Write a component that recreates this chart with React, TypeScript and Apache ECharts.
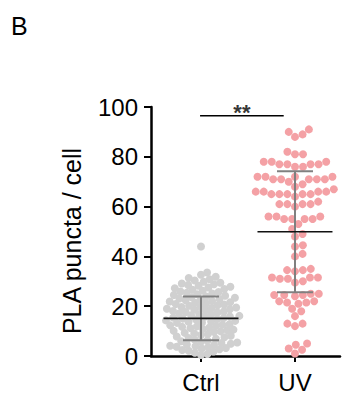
import React, { useEffect, useRef } from 'react';
import * as echarts from 'echarts';

const categories = ['Ctrl', 'UV'];

const ctrlValues = [
  0.4, 0.8, 1.3, 1.8,
  2.1, 2.4, 2.7, 3.0, 3.2, 3.5, 3.7, 3.9,
  4.1, 4.4, 4.6, 4.9, 5.2, 5.4, 5.7, 5.9,
  6.2, 6.5, 6.9, 7.2, 7.5, 7.8,
  8.1, 8.4, 8.8, 9.1, 9.3, 9.6, 9.9,
  10.1, 10.4, 10.6, 10.9, 11.2, 11.4, 11.7, 11.9,
  12.1, 12.3, 12.6, 12.8, 13.3, 13.5, 13.7, 13.9,
  14.1, 14.3, 14.6, 14.8, 15.0, 15.2, 15.4, 15.8, 15.9,
  16.1, 16.3, 16.7, 16.9, 17.1, 17.5, 17.7, 17.9,
  18.1, 18.4, 18.6, 18.8, 19.0, 19.3, 19.5, 19.7, 19.9,
  20.2, 20.4, 20.7, 20.9, 21.1, 21.4, 21.6, 21.9,
  22.1, 22.4, 22.6, 22.9, 23.1, 23.4, 23.6, 23.9,
  24.2, 24.5, 24.8, 25.1, 25.4, 25.7, 25.9,
  26.2, 26.6, 26.9, 27.2, 27.5, 27.8,
  28.2, 28.5, 28.8, 29.1, 29.4, 29.8,
  30.3, 30.8, 31.3, 31.8,
  32.6, 33.5,
  44,
];

const uvValues = [
  91, 90, 89, 88,
  82, 81, 81,
  78, 78, 77, 77, 77, 77, 78, 76, 76,
  72, 72, 72, 72, 71, 71, 71, 71, 71, 72, 70, 69,
  68, 67,
  66, 66, 66, 66, 65, 65, 65, 65, 65, 64,
  62, 61, 61, 61, 61, 60,
  56, 56, 56, 55, 55, 55, 55, 53,
  51, 49, 48,
  44.5, 44, 41, 40,
  35, 34.5, 34.5, 34,
  31.5, 31.5, 31.5, 31, 31,
  30, 29.5,
  25, 25, 24.5, 24.5, 24.5, 24,
  22, 22, 21.5, 21.5, 21,
  19, 18,
  16,
  13, 13, 12,
  5, 4.5, 3, 2.5, 1,
];

const means = [15.1, 49.9];
const sds = [8.8, 24.3];
const yTicks = [0, 20, 40, 60, 80, 100];
const yTitle = 'PLA puncta / cell';
const panelLetter = 'B';
const significanceText = '**';
const significanceY = 96.5;
const significanceX = [0.99, 1.88];

const W = 342;
const H = 396;
const GRID = { left: 151, right: 2, top: 107, bottom: 40 };
const X_MIN = 0.468;
const X_MAX = 2.479;
const DOT = 8;
const FONT = '"Liberation Sans", Arial, Helvetica, sans-serif';

function swarm(values: number[], center: number, pxPerX: number, pxPerY: number, d: number) {
  const placed: { x: number; y: number }[] = [];
  const order = values.map((_, i) => i).sort((a, b) => values[a] - values[b]);
  const result: number[][] = new Array(values.length);
  for (const i of order) {
    const y = values[i] * pxPerY;
    const cands = [0];
    for (const p of placed) {
      const dy = Math.abs(p.y - y);
      if (dy < d) {
        const dx = Math.sqrt(d * d - dy * dy);
        cands.push(p.x + dx, p.x - dx);
      }
    }
    cands.sort((a, b) => Math.abs(a) - Math.abs(b));
    let chosen = 0;
    for (const c of cands) {
      let ok = true;
      for (const p of placed) {
        const dx = p.x - c;
        const dy = p.y - y;
        if (dx * dx + dy * dy < d * d - 1e-6) {
          ok = false;
          break;
        }
      }
      if (ok) {
        chosen = c;
        break;
      }
    }
    placed.push({ x: chosen, y });
    result[i] = [center + chosen / pxPerX, values[i]];
  }
  return result;
}

export default function App() {
  const ref = useRef<HTMLDivElement>(null);
  useEffect(() => {
    if (!ref.current) return;
    const chart = echarts.init(ref.current, undefined, { renderer: 'svg' });
    const plotW = W - GRID.left - GRID.right;
    const plotH = H - GRID.top - GRID.bottom;
    const pxPerX = plotW / (X_MAX - X_MIN);
    const pxPerY = plotH / (yTicks[yTicks.length - 1] - yTicks[0]);
    const ctrlPts = swarm(ctrlValues, 1, pxPerX, pxPerY, 6.5);
    const uvPts = swarm(uvValues, 2, pxPerX, pxPerY, DOT);

    chart.setOption({
      animation: false,
      graphic: [
        {
          type: 'text',
          left: 11,
          top: 13,
          style: { text: panelLetter, fontSize: 25, fill: '#000', fontFamily: FONT },
        },
        {
          type: 'text',
          x: 72,
          y: 241,
          rotation: Math.PI / 2,
          style: {
            text: yTitle,
            fontSize: 25,
            fill: '#000',
            fontFamily: FONT,
            align: 'center',
            verticalAlign: 'middle',
          },
        },
      ],
      grid: { ...GRID, containLabel: false, outerBoundsMode: 'none' },
      xAxis: {
        type: 'value',
        min: X_MIN,
        max: X_MAX,
        splitLine: { show: false },
        axisLine: { lineStyle: { color: '#000', width: 2.5 } },
        axisTick: { show: true, customValues: [1, 2], length: 6, lineStyle: { color: '#000', width: 2 } },
        axisLabel: {
          customValues: [1, 2],
          formatter: (v: number) => categories[Math.round(v) - 1] || '',
          fontSize: 24,
          color: '#000',
          fontFamily: FONT,
          margin: 14,
        },
      },
      yAxis: {
        type: 'value',
        min: yTicks[0],
        max: yTicks[yTicks.length - 1],
        interval: 20,
        splitLine: { show: false },
        axisLine: { show: true, lineStyle: { color: '#000', width: 2.5 } },
        axisTick: { show: true, length: 7, lineStyle: { color: '#000', width: 2 } },
        axisLabel: { fontSize: 24, color: '#000', fontFamily: FONT, margin: 13 },
      },
      series: [
        {
          type: 'scatter',
          data: ctrlPts,
          symbolSize: DOT,
          itemStyle: { color: '#D0D0D0', opacity: 1 },
          z: 2,
        },
        {
          type: 'scatter',
          data: uvPts,
          symbolSize: DOT,
          itemStyle: { color: '#F4A1A5', opacity: 1 },
          z: 2,
        },
        {
          type: 'custom',
          z: 5,
          data: means.map((m, i) => [i + 1, m, sds[i]]),
          renderItem: (params: any, api: any) => {
            const x = api.value(0);
            const m = api.value(1);
            const s = api.value(2);
            const c = api.coord([x, m]);
            const top = api.coord([x, m + s]);
            const bot = api.coord([x, m - s]);
            const meanHalf = 37.5;
            const capHalf = 18;
            const sdStyle = { stroke: '#808080', lineWidth: 2 };
            return {
              type: 'group',
              children: [
                { type: 'line', shape: { x1: c[0], y1: top[1], x2: c[0], y2: bot[1] }, style: sdStyle },
                { type: 'line', shape: { x1: c[0] - capHalf, y1: top[1], x2: c[0] + capHalf, y2: top[1] }, style: sdStyle },
                { type: 'line', shape: { x1: c[0] - capHalf, y1: bot[1], x2: c[0] + capHalf, y2: bot[1] }, style: sdStyle },
                { type: 'line', shape: { x1: c[0] - meanHalf, y1: c[1], x2: c[0] + meanHalf, y2: c[1] }, style: { stroke: '#111', lineWidth: 1.6 } },
              ],
            };
          },
        },
        {
          type: 'line',
          data: [[significanceX[0], significanceY], [significanceX[1], significanceY]],
          symbol: 'none',
          lineStyle: { color: '#000', width: 1.5 },
          z: 5,
        },
        {
          type: 'scatter',
          data: [[(significanceX[0] + significanceX[1]) / 2, significanceY]],
          symbolSize: 0,
          label: {
            show: true,
            position: 'top',
            distance: -8,
            formatter: significanceText,
            fontSize: 22,
            fontWeight: 'bold',
            color: '#000',
            fontFamily: FONT,
          },
          z: 5,
        },
      ],
    });
    return () => chart.dispose();
  }, []);
  return <div ref={ref} style={{ width: W, height: H, position: 'absolute', left: 0, top: 0 }} />;
}
